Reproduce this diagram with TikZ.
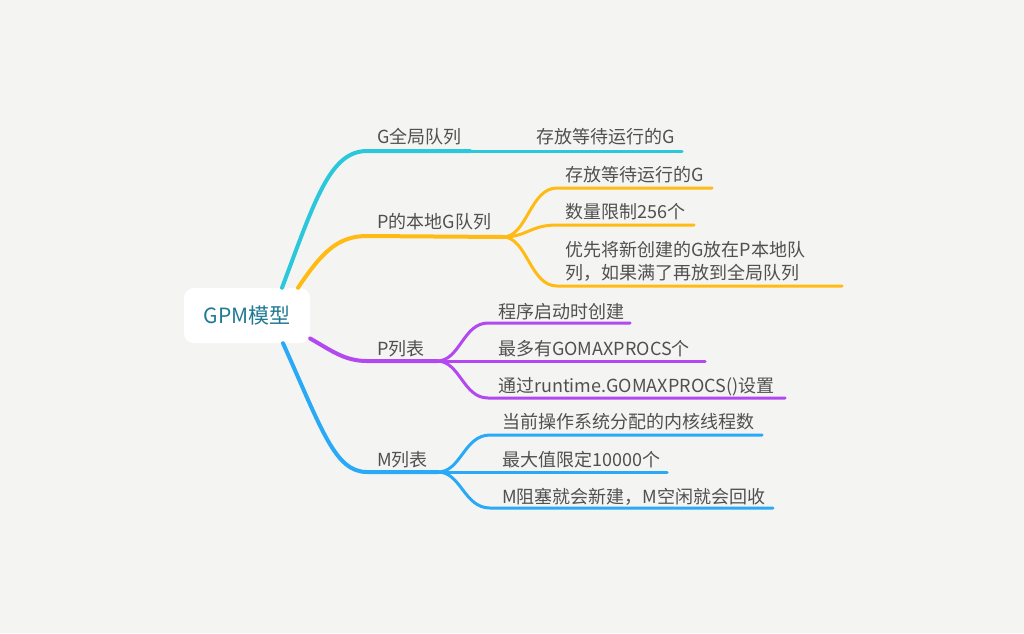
\documentclass[tikz,border=0pt]{standalone}
\usepackage{fontspec}
\setmainfont{Noto Sans CJK SC}
\definecolor{bgcol}{HTML}{F4F5F3}
\definecolor{txtcol}{HTML}{505050}
\definecolor{rootcol}{HTML}{1F7A94}
\definecolor{gcol}{HTML}{2BC8DC}
\definecolor{pcol}{HTML}{FFBB13}
\definecolor{plcol}{HTML}{B347F0}
\definecolor{mcol}{HTML}{2AA9F7}
\begin{document}
\begin{tikzpicture}[x=1pt,y=-1pt,
    main/.style = {line width=4pt,line cap=round},
    sub/.style = {line width=3pt,line cap=round},
    label/.style = {anchor=base west,inner sep=0pt,text=txtcol,font=\fontsize{18}{23}\selectfont}]
                \fill[bgcol] (0,0) rectangle (1024,633);
                \useasboundingbox (0,0) rectangle (1024,633);

                \node[fill=white,rounded corners=10pt,minimum width=126pt,minimum height=55pt,
                      text=rootcol,font=\fontsize{21}{24}\selectfont] (root) at (247,315.5) {GPM模型};

                % G queue
                \coordinate (gq) at (367,151);
                \coordinate (gqJ) at (470,151);
                \coordinate (gqA) at (682,151);
                \draw[main,gcol] ([xshift=35pt]root.north) .. controls (315,200) and (330,151) .. (gq) -- (gqJ);
                \draw[sub,gcol] (gqJ) -- (gqA);
                \node[label] (gqLabel) at (377,143.5) {G全局队列};
                \node[label] (gqA1) at (536,143.5) {存放等待运行的G};

                % P local queue
                \coordinate (pq) at (367,236);
                \coordinate (pqJ) at (503,237);
                \coordinate (pqA) at (712,188);
                \coordinate (pqB) at (694,225);
                \coordinate (pqC) at (842,286);
                \draw[main,pcol] ([xshift=51pt]root.north) .. controls (322,252) and (338,236) .. (pq) -- (pqJ);
                \draw[sub,pcol] (pqJ) .. controls (527,237) and (530,188) .. (557,188) -- (pqA);
                \draw[sub,pcol] (pqJ) .. controls (527,237) and (530,225) .. (557,225) -- (pqB);
                \draw[sub,pcol] (pqJ) .. controls (527,237) and (530,286) .. (557,286) -- (pqC);
                \node[label] (pqLabel) at (377,228.5) {P的本地G队列};
                \node[label] (pqA1) at (565,181.5) {存放等待运行的G};
                \node[label] (pqB1) at (565,218.5) {数量限制256个};
                \node[label,align=left] (pqC1) at (565,279.5) {优先将新创建的G放在P本地队\\列，如果满了再放到全局队列};

                % P list
                \coordinate (pl) at (367,361);
                \coordinate (plJ) at (437,361);
                \coordinate (plA) at (630,323);
                \coordinate (plB) at (705,361);
                \coordinate (plC) at (785,398);
                \draw[main,plcol] ([yshift=-23pt]root.east) .. controls (332,351) and (345,361) .. (pl) -- (plJ);
                \draw[sub,plcol] (plJ) .. controls (460,361) and (463,323) .. (488,323) -- (plA);
                \draw[sub,plcol] (plJ) -- (plB);
                \draw[sub,plcol] (plJ) .. controls (460,361) and (463,398) .. (488,398) -- (plC);
                \node[label] (plLabel) at (377,355) {P列表};
                \node[label] (plA1) at (498,318) {程序启动时创建};
                \node[label] (plB1) at (498,355) {最多有GOMAXPROCS个};
                \node[label] (plC1) at (498,392) {通过runtime.GOMAXPROCS()设置};

                % M list
                \coordinate (ml) at (367,472);
                \coordinate (mlJ) at (438,472);
                \coordinate (mlA) at (762,435);
                \coordinate (mlB) at (667,472);
                \coordinate (mlC) at (773,508);
                \draw[main,mcol] ([xshift=36pt]root.south) .. controls (322,430) and (335,472) .. (ml) -- (mlJ);
                \draw[sub,mcol] (mlJ) .. controls (461,472) and (464,435) .. (490,435) -- (mlA);
                \draw[sub,mcol] (mlJ) -- (mlB);
                \draw[sub,mcol] (mlJ) .. controls (461,472) and (464,508) .. (490,508) -- (mlC);
                \node[label] (mlLabel) at (377,466) {M列表};
                \node[label] (mlA1) at (502,428.5) {当前操作系统分配的内核线程数};
                \node[label] (mlB1) at (502,466) {最大值限定10000个};
                \node[label] (mlC1) at (502,503) {M阻塞就会新建，M空闲就会回收};
            \end{tikzpicture}
\end{document}
